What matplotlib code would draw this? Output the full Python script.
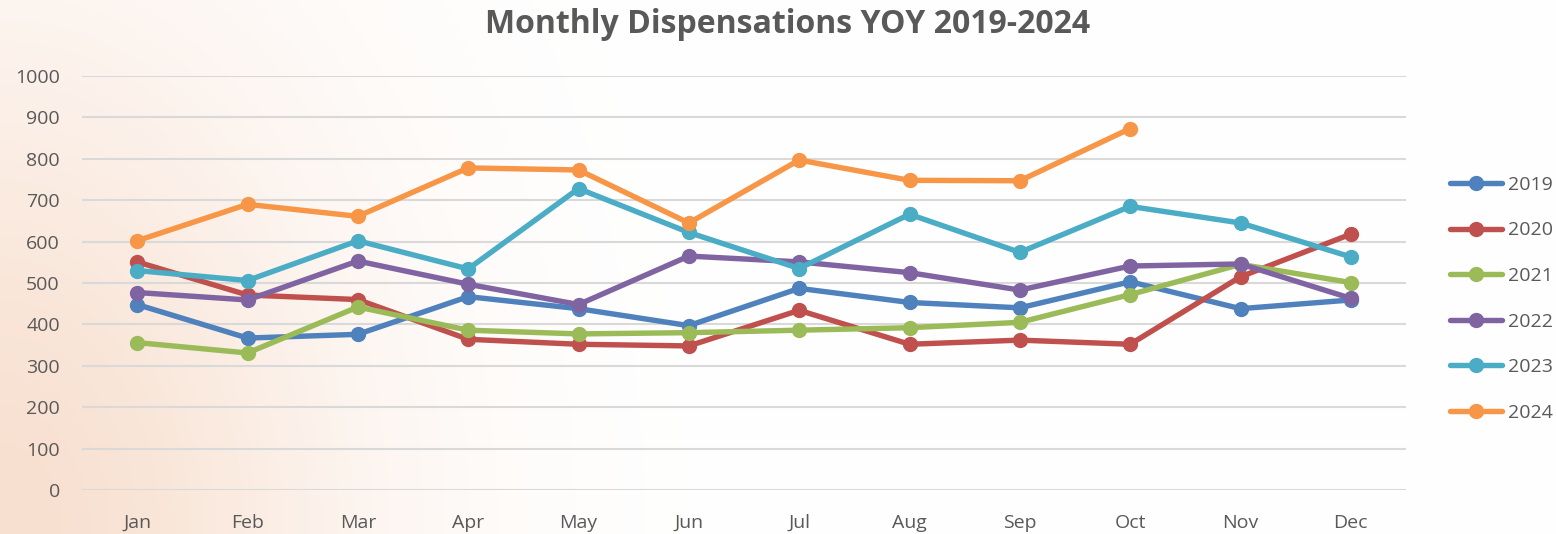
import numpy as np
import matplotlib
matplotlib.use("Agg")
import matplotlib.pyplot as plt

# --------------------------------------------------
# Data
# --------------------------------------------------
months = ["Jan", "Feb", "Mar", "Apr", "May", "Jun",
          "Jul", "Aug", "Sep", "Oct", "Nov", "Dec"]

y2019 = [448, 367, 376, 467, 438, 397, 487, 453, 440, 503, 438, 459]
y2020 = [551, 471, 460, 364, 352, 348, 434, 352, 362, 352, 515, 618]
y2021 = [356, 331, 442, 386, 377, 380, 386, 392, 405, 472, 545, 501]
y2022 = [477, 459, 553, 497, 448, 565, 551, 525, 483, 541, 546, 463]
y2023 = [530, 506, 602, 534, 728, 622, 535, 666, 574, 685, 645, 563]
y2024 = [602, 690, 661, 778, 773, 645, 797, 748, 747, 873]

series = [
    ("2019", y2019, "#4F81BD"),
    ("2020", y2020, "#C0504D"),
    ("2021", y2021, "#9BBB59"),
    ("2022", y2022, "#8064A2"),
    ("2023", y2023, "#4BACC6"),
    ("2024", y2024, "#F79646"),
]

TEXT = "#595959"
plt.rcParams["font.family"] = ["Open Sans", "DejaVu Sans"]

fig = plt.figure(figsize=(15.56, 5.34), dpi=100)

# --------------------------------------------------
# Background gradient (peach in lower-left, white elsewhere)
# --------------------------------------------------
bg = fig.add_axes([0, 0, 1, 1], zorder=-10)
W, H = 1556, 534
xx, yy = np.meshgrid(np.linspace(0, 1, W), np.linspace(1, 0, H))
w = np.exp(-(xx ** 2 / 0.05 + yy ** 2 / 0.9))
peach = np.array([248, 224, 208]) / 255.0
img = 1 - w[..., None] * (1 - peach)
bg.imshow(img, aspect="auto", extent=[0, 1, 0, 1])
bg.set_axis_off()

# --------------------------------------------------
# Main chart
# --------------------------------------------------
ax = fig.add_axes([0.0527, 0.0824, 0.8509, 0.7753])
ax.patch.set_alpha(0)

x = np.arange(len(months))
for label, vals, color in series:
    ax.plot(x[:len(vals)], vals, color=color, lw=3.9,
            marker="o", markersize=10, label=label,
            solid_capstyle="round", solid_joinstyle="round")

ax.set_xlim(-0.5, 11.5)
ax.set_ylim(0, 1000)
ax.set_yticks(np.arange(0, 1001, 100))
ax.set_xticks(x)
ax.set_xticklabels(months)
ax.grid(axis="y", color="#D9D9D9", lw=1.5)
ax.set_axisbelow(True)
for s in ax.spines.values():
    s.set_visible(False)
ax.tick_params(length=0, colors=TEXT, labelsize=14)
ax.tick_params(axis="x", pad=17)
ax.tick_params(axis="y", pad=16)

fig.text(0.506, 0.955, "Monthly Dispensations YOY 2019-2024",
         ha="center", va="center", fontsize=23, fontweight="bold",
         color=TEXT)

leg = ax.legend(loc="center left", bbox_to_anchor=(1.02, 0.462),
                frameon=False, fontsize=14, labelspacing=1.42,
                handlelength=2.7, handletextpad=0.3)
for t in leg.get_texts():
    t.set_color(TEXT)

fig.savefig("out.png", dpi=100)
